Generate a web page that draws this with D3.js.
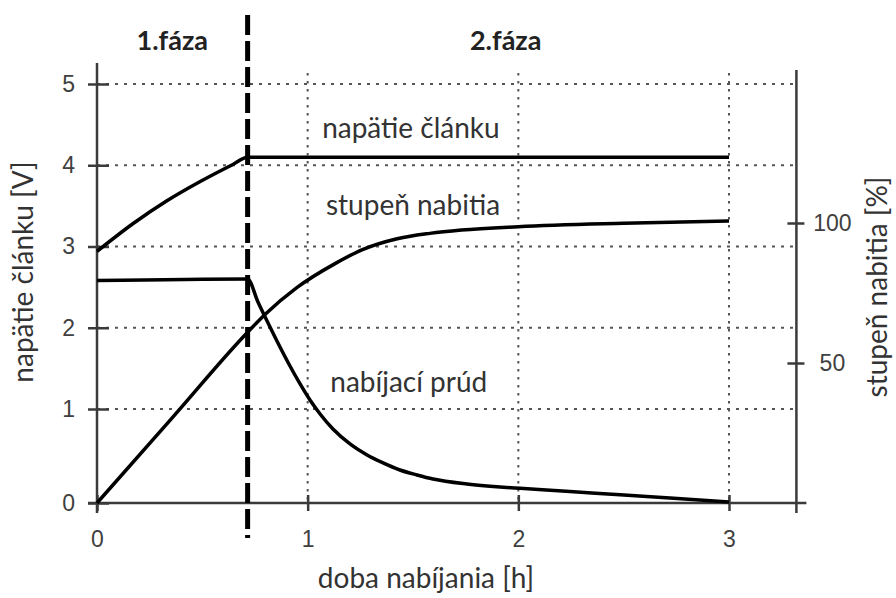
<!DOCTYPE html>
<html>
<head>
<meta charset="utf-8">
<script src="https://cdn.jsdelivr.net/npm/d3@7"></script>
<style>
    body { margin: 0; background: #fff; }
    .label { font-family: Lato, "Open Sans", sans-serif; font-size: 28px; fill: #333; }
    .phase { font-family: Lato, "Open Sans", sans-serif; font-weight: bold; font-size: 27px; fill: #222; }
    .tick text { font-family: "Liberation Sans", Arial, sans-serif; font-size: 23px; fill: #404040; }
</style>
</head>
<body>
<div id="chart-container"></div>
<script>
// tick values
const timeTicks = [0, 1, 2, 3];
const voltageTicks = [0, 1, 2, 3, 4, 5];
const socTicks = [50, 100];
const phaseLabels = ["1.fáza", "2.fáza"];
const phaseBoundary = 0.715; // end of phase 1 [h]

// napätie článku [V]
const voltageTime = [0, 0.17, 0.33, 0.49, 0.645, 0.715, 1.5, 3.0];
const voltageValues = [2.94, 3.28, 3.56, 3.8, 4.01, 4.1, 4.1, 4.1];

// nabíjací prúd (drawn on the left scale)
const currentTime = [0, 0.715, 0.764, 0.812, 0.859, 0.916, 0.964, 1.011, 1.059, 1.12, 1.201, 1.282, 1.358, 1.438, 1.519, 1.595, 1.756, 1.913, 2.008, 2.245, 2.483, 2.72, 3.0];
const currentValues = [2.58, 2.6, 2.317, 2.058, 1.812, 1.529, 1.308, 1.111, 0.947, 0.787, 0.628, 0.511, 0.426, 0.351, 0.298, 0.255, 0.202, 0.17, 0.156, 0.122, 0.087, 0.053, 0.011];

// stupeň nabitia [%]
const socTime = [0, 0.36, 0.715, 0.8, 0.95, 1.13, 1.26, 1.42, 1.58, 1.73, 2.0, 2.5, 3.0];
const socValues = [0, 30.7, 61, 67.5, 77, 85.5, 90.5, 94.3, 96.3, 97.5, 98.7, 99.9, 100.7];

const width = 896;
const height = 598;
const xMax = 3.32; // where the right axis sits

const svg = d3.select("#chart-container")
    .append("svg")
        .attr("width", width)
        .attr("height", height);

// scales (left axis is slightly stretched between 0 and 1 in the original)
const x = d3.scaleLinear().domain([0, 3]).range([97, 729]);
const yLeft = d3.scaleLinear().domain([0, 1, 5]).range([503, 409, 84]);
const yRight = d3.scaleLinear().domain([0, 100]).range([503, 223]);

const axisColor = "#3a3a3a";
const gridColor = "#555";

// horizontal grid
svg.append("g")
    .selectAll("line")
    .data(voltageTicks.slice(1))
    .join("line")
        .attr("x1", x(0))
        .attr("x2", x(xMax))
        .attr("y1", d => yLeft(d))
        .attr("y2", d => yLeft(d))
        .attr("stroke", gridColor)
        .attr("stroke-width", 2)
        .attr("stroke-dasharray", "3,6");

// vertical grid
svg.append("g")
    .selectAll("line")
    .data(timeTicks.slice(1))
    .join("line")
        .attr("x1", d => x(d))
        .attr("x2", d => x(d))
        .attr("y1", yLeft.range()[2] - 11)
        .attr("y2", yLeft(0))
        .attr("stroke", gridColor)
        .attr("stroke-width", 2)
        .attr("stroke-dasharray", "2.5,5.5");

// axis lines
svg.append("line") // left
    .attr("x1", x(0)).attr("x2", x(0))
    .attr("y1", yLeft.range()[2] - 21).attr("y2", yLeft(0) + 10)
    .attr("stroke", axisColor).attr("stroke-width", 2.5);
svg.append("line") // right
    .attr("x1", x(xMax)).attr("x2", x(xMax))
    .attr("y1", yLeft.range()[2] - 14).attr("y2", yLeft(0) + 10)
    .attr("stroke", axisColor).attr("stroke-width", 2.5);
svg.append("line") // bottom
    .attr("x1", x(0) - 9).attr("x2", x(xMax) + 10)
    .attr("y1", yLeft(0)).attr("y2", yLeft(0))
    .attr("stroke", axisColor).attr("stroke-width", 2.5);

// left axis
const leftAxis = svg.append("g")
    .attr("transform", `translate(${x(0)}, 0)`)
    .call(d3.axisLeft(yLeft).tickValues(voltageTicks).tickFormat(d3.format("d"))
        .tickSizeInner(9).tickSizeOuter(0).tickPadding(13));
leftAxis.select(".domain").remove();
leftAxis.selectAll(".tick line").attr("x1", 12).attr("stroke", axisColor).attr("stroke-width", 2.5);

// bottom axis
const bottomAxis = svg.append("g")
    .attr("transform", `translate(0, ${yLeft(0)})`)
    .call(d3.axisBottom(x).tickValues(timeTicks).tickFormat(d3.format("d"))
        .tickSizeInner(8).tickSizeOuter(0).tickPadding(20));
bottomAxis.select(".domain").remove();
bottomAxis.selectAll(".tick line").attr("y1", -8).attr("stroke", axisColor).attr("stroke-width", 2.5);

// right axis
const rightAxis = svg.append("g")
    .attr("transform", `translate(${x(xMax)}, 0)`)
    .call(d3.axisRight(yRight).tickValues(socTicks).tickFormat(d3.format("d"))
        .tickSizeInner(8).tickSizeOuter(0));
rightAxis.select(".domain").remove();
rightAxis.selectAll(".tick line").attr("x1", -9).attr("stroke", axisColor).attr("stroke-width", 2.5);
rightAxis.selectAll(".tick text").attr("x", 36).attr("text-anchor", "middle");

// phase boundary
svg.append("line")
    .attr("x1", x(phaseBoundary)).attr("x2", x(phaseBoundary))
    .attr("y1", 15).attr("y2", yLeft(0) + 35)
    .attr("stroke", "#000")
    .attr("stroke-width", 5)
    .attr("stroke-dasharray", "20,6");

// curves
const lineLeft = d3.line()
    .x(d => x(d[0]))
    .y(d => yLeft(d[1]))
    .curve(d3.curveMonotoneX);
const lineRight = d3.line()
    .x(d => x(d[0]))
    .y(d => yRight(d[1]))
    .curve(d3.curveMonotoneX);

const curves = [
    {data: d3.zip(voltageTime, voltageValues), line: lineLeft},
    {data: d3.zip(currentTime, currentValues), line: lineLeft},
    {data: d3.zip(socTime, socValues), line: lineRight}
];
svg.append("g")
    .selectAll("path")
    .data(curves)
    .join("path")
        .attr("d", d => d.line(d.data))
        .attr("fill", "none")
        .attr("stroke", "#000")
        .attr("stroke-width", 3.5)
        .attr("stroke-linejoin", "round");

// phase titles
svg.append("text").attr("class", "phase")
    .attr("x", x(phaseBoundary / 2)).attr("y", 50)
    .attr("text-anchor", "middle").text(phaseLabels[0]);
svg.append("text").attr("class", "phase")
    .attr("x", x(1.94)).attr("y", 50)
    .attr("text-anchor", "middle").text(phaseLabels[1]);

// curve labels
const curveLabels = [
    {text: "napätie článku", t: 1.49, y: 138},
    {text: "stupeň nabitia", t: 1.5, y: 215},
    {text: "nabíjací prúd", t: 1.48, y: 392}
];
svg.append("g")
    .selectAll("text")
    .data(curveLabels)
    .join("text")
        .attr("class", "label")
        .attr("x", d => x(d.t))
        .attr("y", d => d.y)
        .attr("text-anchor", "middle")
        .text(d => d.text);

// axis titles
svg.append("text").attr("class", "label")
    .attr("x", 426).attr("y", 588)
    .attr("text-anchor", "middle")
    .text("doba nabíjania [h]");
svg.append("text").attr("class", "label")
    .attr("transform", "translate(33, 272) rotate(-90)")
    .attr("text-anchor", "middle")
    .text("napätie článku [V]");
svg.append("text").attr("class", "label")
    .attr("transform", "translate(887, 287) rotate(-90)")
    .attr("text-anchor", "middle")
    .text("stupeň nabitia [%]");
</script>
</body>
</html>
